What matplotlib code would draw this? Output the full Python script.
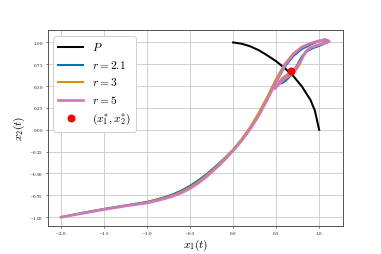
import matplotlib.pyplot as plt

plt.rcParams['font.family'] = 'serif'
plt.rcParams['font.serif'] = ['cmr10', 'DejaVu Serif']
plt.rcParams['mathtext.fontset'] = 'cm'
plt.rcParams['axes.formatter.use_mathtext'] = True

# curve P
p_x1 = [0.0, 0.1, 0.2, 0.3, 0.4, 0.5, 0.6, 0.7, 0.8, 0.9, 0.95, 1.0]
p_x2 = [1.0, 0.985, 0.955, 0.91, 0.85, 0.785, 0.705, 0.615, 0.495, 0.34, 0.22, 0.0]

# trajectories
r21_x1 = [-2.0, -1.75, -1.5, -1.25, -1.0, -0.9, -0.8, -0.7, -0.6, -0.5, -0.4, -0.3, -0.2, -0.1,
          0.0, 0.1, 0.2, 0.3, 0.4, 0.5, 0.6, 0.7, 0.8, 0.9, 1.0, 1.06, 1.1, 1.07, 1.0, 0.93,
          0.86, 0.8, 0.76, 0.72, 0.67, 0.61, 0.56, 0.57, 0.61, 0.66, 0.69, 0.674]
r21_x2 = [-1.0, -0.95, -0.905, -0.865, -0.825, -0.8, -0.772, -0.738, -0.695, -0.64, -0.575, -0.5, -0.415, -0.325,
          -0.23, -0.115, 0.02, 0.18, 0.36, 0.55, 0.72, 0.845, 0.925, 0.975, 1.015, 1.035, 1.025, 0.99, 0.96, 0.935,
          0.9, 0.84, 0.77, 0.7, 0.62, 0.56, 0.53, 0.56, 0.61, 0.65, 0.675, 0.672]

r3_x1 = [-2.0, -1.75, -1.5, -1.25, -1.0, -0.9, -0.8, -0.7, -0.6, -0.5, -0.4, -0.3, -0.2, -0.1,
         0.0, 0.1, 0.2, 0.3, 0.4, 0.5, 0.6, 0.7, 0.8, 0.9, 1.0, 1.07, 1.1, 1.05, 0.96, 0.88,
         0.83, 0.8, 0.78, 0.75, 0.71, 0.66, 0.6, 0.54, 0.53, 0.58, 0.64, 0.674]
r3_x2 = [-1.0, -0.953, -0.908, -0.868, -0.83, -0.806, -0.78, -0.748, -0.708, -0.655, -0.59, -0.512, -0.425, -0.33,
         -0.225, -0.105, 0.035, 0.2, 0.385, 0.585, 0.755, 0.875, 0.95, 0.99, 1.012, 1.022, 1.015, 0.99, 0.965, 0.935,
         0.88, 0.81, 0.76, 0.71, 0.66, 0.62, 0.58, 0.545, 0.55, 0.6, 0.645, 0.672]

r5_x1 = [-2.0, -1.75, -1.5, -1.25, -1.0, -0.9, -0.8, -0.7, -0.6, -0.5, -0.4, -0.3, -0.2, -0.1,
         0.0, 0.1, 0.2, 0.3, 0.4, 0.5, 0.6, 0.7, 0.8, 0.9, 1.0, 1.08, 1.12, 1.08, 1.0, 0.92,
         0.86, 0.82, 0.78, 0.73, 0.66, 0.58, 0.51, 0.48, 0.5, 0.56, 0.62, 0.67, 0.69, 0.674]
r5_x2 = [-1.0, -0.956, -0.912, -0.872, -0.838, -0.815, -0.79, -0.76, -0.722, -0.672, -0.608, -0.53, -0.44, -0.345,
         -0.24, -0.125, 0.01, 0.165, 0.35, 0.55, 0.735, 0.865, 0.945, 0.99, 1.02, 1.028, 1.01, 0.995, 0.975, 0.945,
         0.91, 0.85, 0.78, 0.71, 0.64, 0.57, 0.51, 0.47, 0.49, 0.55, 0.61, 0.655, 0.68, 0.672]

eq_x1 = [0.674]
eq_x2 = [0.672]

fig, ax = plt.subplots(figsize=(6, 4), dpi=63.5)
ax.plot(p_x1, p_x2, color='black', lw=2.3, label='$P$')
ax.plot(r21_x1, r21_x2, color='#0173B2', lw=2.3, label='$r=$2.1')
ax.plot(r3_x1, r3_x2, color='#DE8F05', lw=2.3, label='$r=$3')
ax.plot(r5_x1, r5_x2, color='#CC78BC', lw=3.0, label='$r=$5')
ax.plot(eq_x1, eq_x2, 'o', color='red', ms=8, label='$(x_1^{*}, x_2^{*})$', zorder=5)

ax.grid(True, color='#cccccc', lw=1)
ax.set_axisbelow(True)
for s in ax.spines.values():
    s.set_color('#444444')
    s.set_linewidth(1)
ax.tick_params(labelsize=5.5, length=2.5, width=0.8, color='#444444', pad=2.5)
ax.set_xlabel('$x_1(t)$', fontsize=13, labelpad=0)
ax.set_ylabel('$x_2(t)$', fontsize=13, labelpad=2)
ax.legend(loc='upper left', fontsize=13, handlelength=2.2, framealpha=1)

plt.savefig('out.png')
